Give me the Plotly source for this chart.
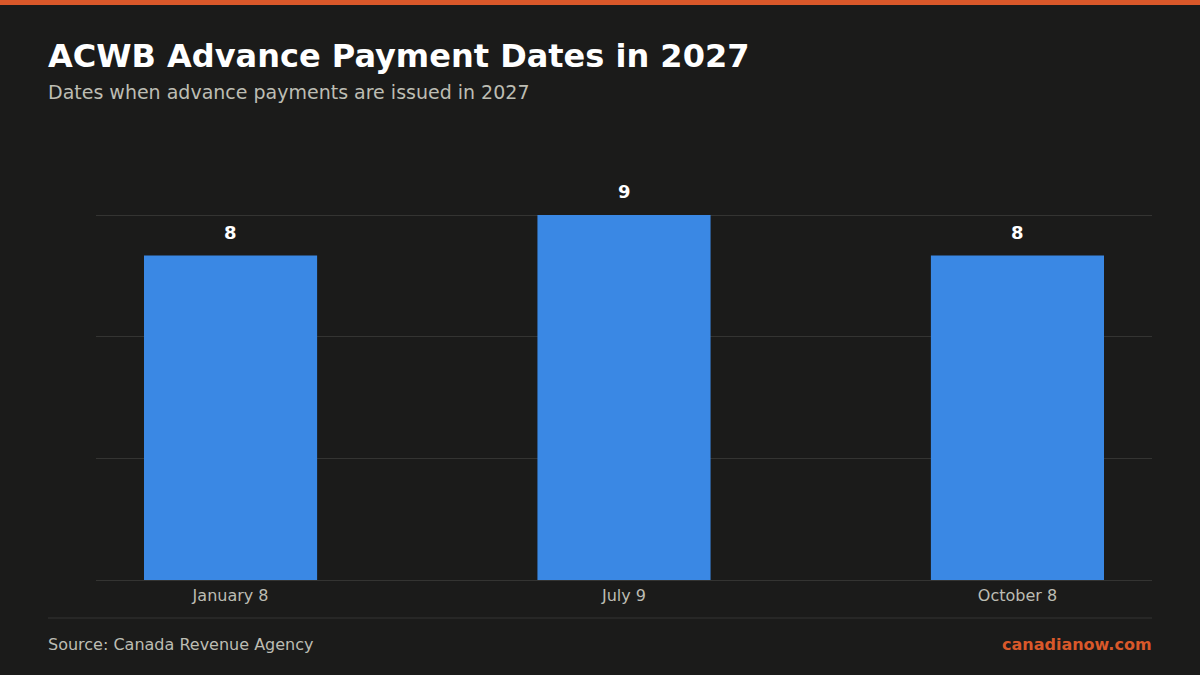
import plotly.graph_objects as go

dates = ["January 8", "July 9", "October 8"]
days = [8, 9, 8]

W, H = 1200, 675
L, R, T, B = 96, 48, 213, 95
bg = "#1b1b1a"
orange = "#d9582a"

def px(x):
    return (x - L) / (W - L - R)

def py(y):
    return (H - B - y) / (H - T - B)

fig = go.Figure(go.Bar(
    x=dates,
    y=days,
    marker=dict(color="#3a88e4", line=dict(width=0)),
    width=0.44,
    hoverinfo="skip",
))

# value labels above the bars
labels = [dict(x=d, y=v, text="<b>%d</b>" % v, xref="x", yref="y", showarrow=False,
               yanchor="bottom", yshift=11, font=dict(size=18, color="#ffffff"))
          for d, v in zip(dates, days)]

fig.update_layout(
    width=W, height=H,
    margin=dict(l=L, r=R, t=T, b=B, pad=0),
    paper_bgcolor=bg, plot_bgcolor=bg,
    font=dict(family="DejaVu Sans", color="#bdbdb3"),
    showlegend=False,
    xaxis=dict(range=[-0.342, 2.342], showgrid=False, zeroline=False,
               showline=False, ticks="", ticklabelstandoff=4,
               tickfont=dict(size=16, color="#bdbdb3")),
    yaxis=dict(range=[0, 9.05], tickvals=[0, 3, 6, 9], showticklabels=False,
               gridcolor="#343432", gridwidth=1, zeroline=True,
               zerolinecolor="#343432", zerolinewidth=1),
    shapes=[
        dict(type="rect", xref="paper", yref="paper", x0=px(0), x1=px(W),
             y0=py(5), y1=py(0), fillcolor=orange, line=dict(width=0), layer="above"),
        dict(type="line", xref="paper", yref="paper", x0=px(48), x1=px(1152),
             y0=py(618), y1=py(618), line=dict(color="#343432", width=1)),
    ],
    annotations=labels + [
        dict(text="<b>ACWB Advance Payment Dates in 2027</b>", xref="paper", yref="paper",
             x=px(46), y=py(56), xanchor="left", yanchor="middle", showarrow=False,
             font=dict(size=32, color="#ffffff")),
        dict(text="Dates when advance payments are issued in 2027", xref="paper", yref="paper",
             x=px(46), y=py(92), xanchor="left", yanchor="middle", showarrow=False,
             font=dict(size=19, color="#bdbdb3")),
        dict(text="Source: Canada Revenue Agency", xref="paper", yref="paper",
             x=px(46), y=py(644), xanchor="left", yanchor="middle", showarrow=False,
             font=dict(size=16, color="#bdbdb3")),
        dict(text="<b>canadianow.com</b>", xref="paper", yref="paper",
             x=px(1154), y=py(644), xanchor="right", yanchor="middle", showarrow=False,
             font=dict(size=16, color=orange)),
    ],
)

fig.write_html("out.html", config={"displayModeBar": False},
               post_script="document.body.style.margin='0';")
